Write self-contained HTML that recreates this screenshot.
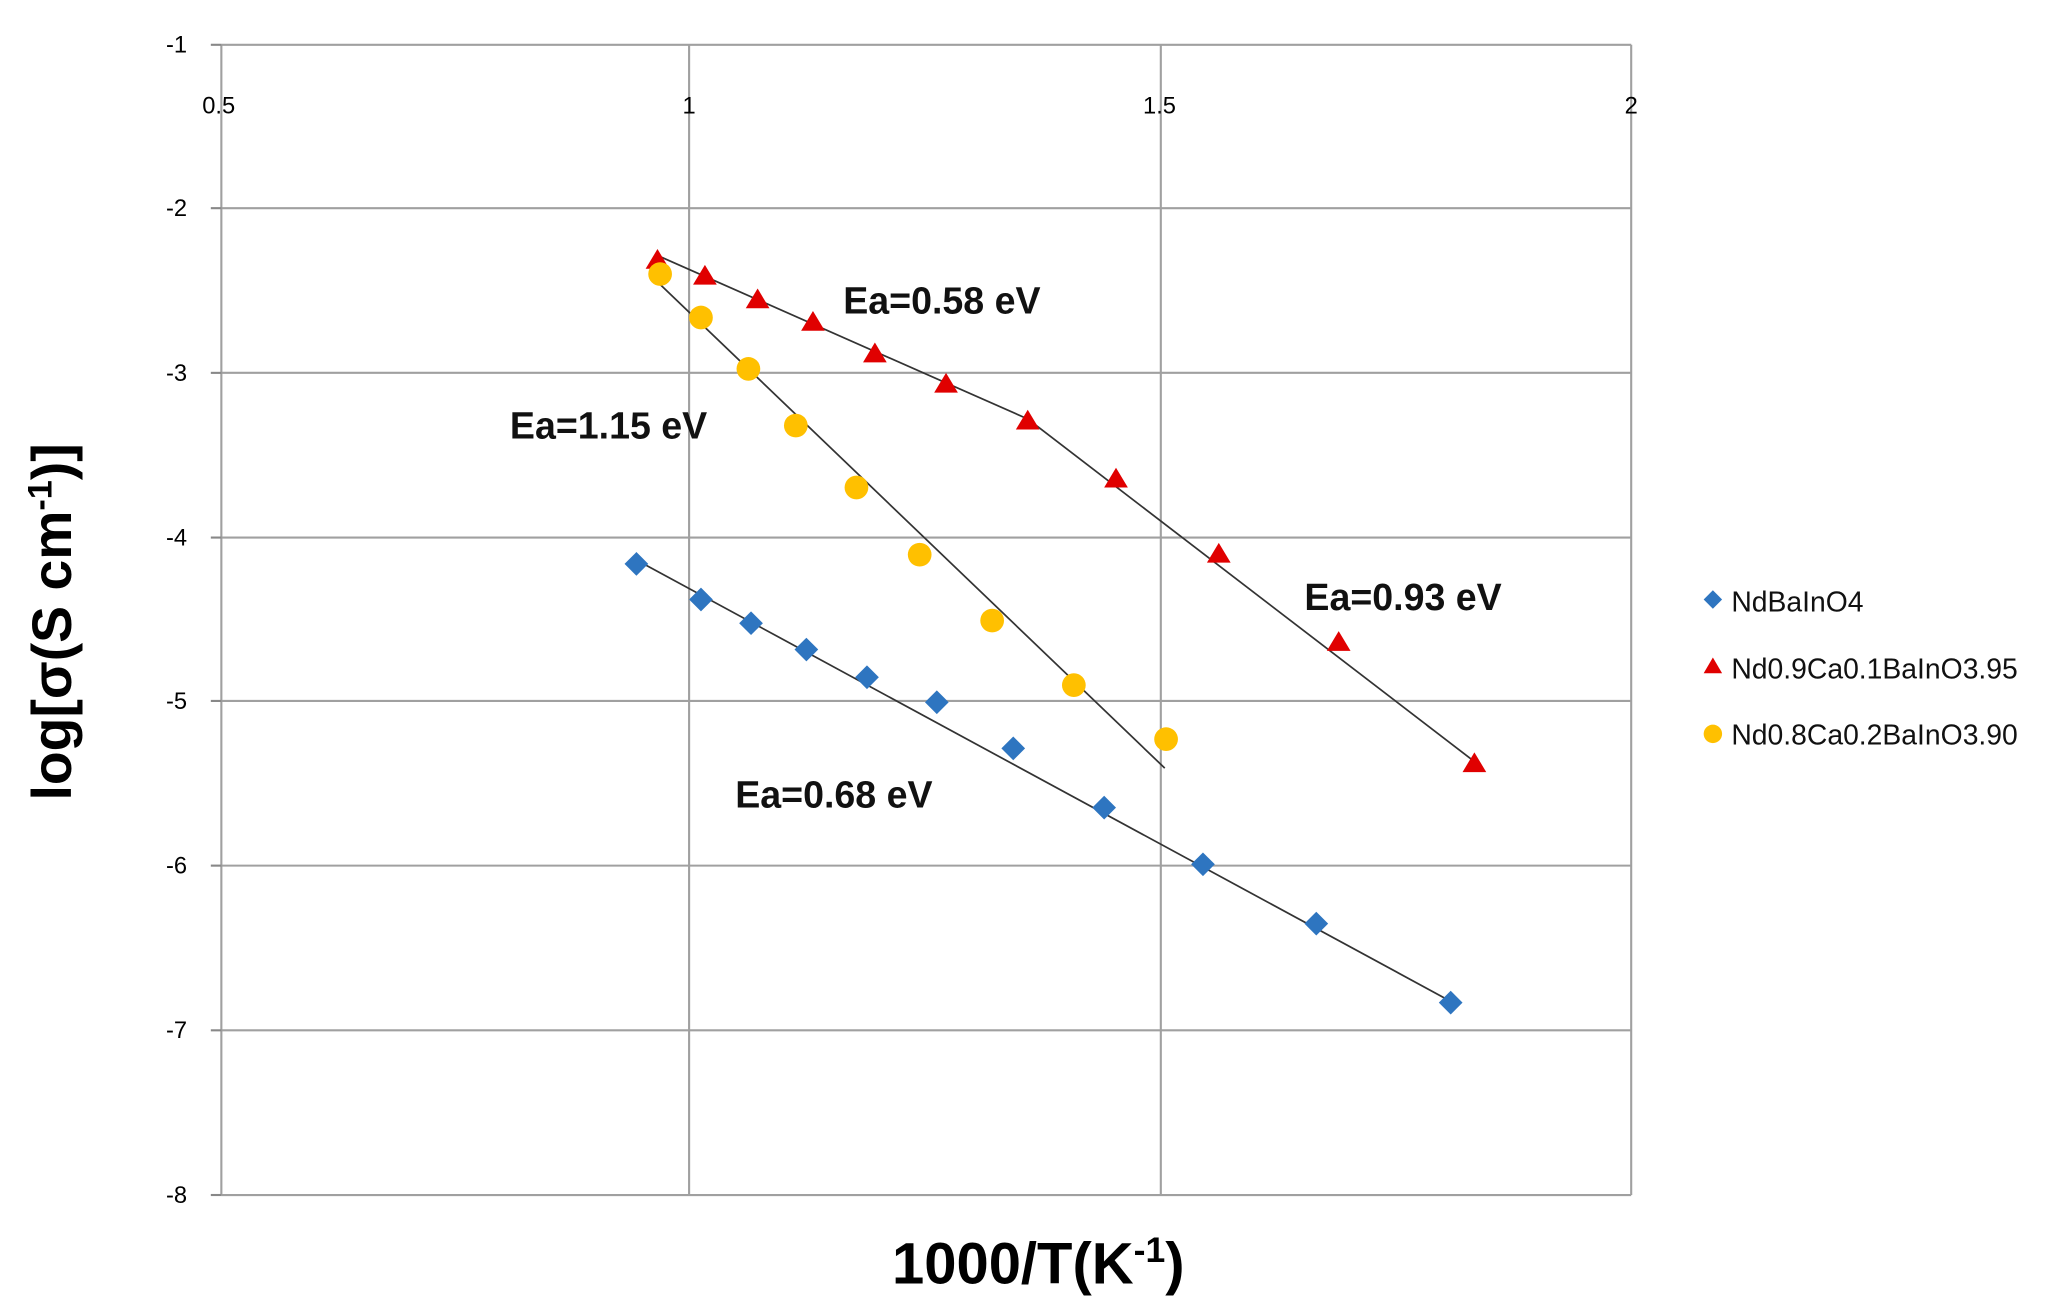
<!DOCTYPE html>
<html><head><meta charset="utf-8"><style>
html,body{margin:0;padding:0;background:#fff;}
svg{display:block;}
text{font-family:"Liberation Sans",sans-serif;}
</style></head><body>
<svg width="2066" height="1302" viewBox="0 0 1568 988.2" preserveAspectRatio="none" xmlns="http://www.w3.org/2000/svg">
<rect width="1568" height="988.2" fill="#fff"/>
<g stroke="#a0a0a0" stroke-width="1.6" fill="none">
<line x1="168" y1="34" x2="1238" y2="34"/>
<line x1="168" y1="158" x2="1238" y2="158"/>
<line x1="168" y1="283" x2="1238" y2="283"/>
<line x1="168" y1="408" x2="1238" y2="408"/>
<line x1="168" y1="532" x2="1238" y2="532"/>
<line x1="168" y1="657" x2="1238" y2="657"/>
<line x1="168" y1="782" x2="1238" y2="782"/>
<line x1="168" y1="907" x2="1238" y2="907"/>
<line x1="168" y1="34" x2="168" y2="907"/>
<line x1="523" y1="34" x2="523" y2="907"/>
<line x1="881" y1="34" x2="881" y2="907"/>
<line x1="1238" y1="34" x2="1238" y2="907"/>
</g>
<g stroke="#888" stroke-width="1.6">
<line x1="160" y1="34" x2="168" y2="34"/><line x1="160" y1="158" x2="168" y2="158"/><line x1="160" y1="283" x2="168" y2="283"/><line x1="160" y1="408" x2="168" y2="408"/><line x1="160" y1="532" x2="168" y2="532"/><line x1="160" y1="657" x2="168" y2="657"/><line x1="160" y1="782" x2="168" y2="782"/><line x1="160" y1="907" x2="168" y2="907"/>
</g>
<g font-size="18" fill="#000" text-anchor="end">
<text x="142" y="40">-1</text><text x="142" y="164">-2</text><text x="142" y="289">-3</text><text x="142" y="414">-4</text><text x="142" y="538">-5</text><text x="142" y="663">-6</text><text x="142" y="788">-7</text><text x="142" y="913">-8</text>
</g>
<g font-size="18" fill="#000" text-anchor="middle">
<text x="166" y="86">0.5</text><text x="523" y="86">1</text><text x="880" y="86">1.5</text><text x="1238" y="86">2</text>
</g>
<g stroke="#333" stroke-width="1.3">
<line x1="483" y1="425" x2="1101" y2="760"/>
<line x1="497" y1="193" x2="780" y2="318"/>
<line x1="780" y1="318" x2="1119" y2="578"/>
<line x1="497" y1="212" x2="884" y2="583"/>
</g>
<g fill="#2e75c0">
<path d="M483 419l9 9-9 9-9-9z"/><path d="M532 446l9 9-9 9-9-9z"/><path d="M570 464l9 9-9 9-9-9z"/><path d="M612 484l9 9-9 9-9-9z"/><path d="M658 505l9 9-9 9-9-9z"/><path d="M711 524l9 9-9 9-9-9z"/><path d="M769 559l9 9-9 9-9-9z"/><path d="M838 604l9 9-9 9-9-9z"/><path d="M913 647l9 9-9 9-9-9z"/><path d="M999 692l9 9-9 9-9-9z"/><path d="M1101 752l9 9-9 9-9-9z"/>
</g>
<g fill="#e00000">
<path d="M499 189l9 15h-18z"/><path d="M535 201l9 15h-18z"/><path d="M575 219l9 15h-18z"/><path d="M617 236l9 15h-18z"/><path d="M664 260l9 15h-18z"/><path d="M718 283l9 15h-18z"/><path d="M780 311l9 15h-18z"/><path d="M847 355l9 15h-18z"/><path d="M925 412l9 15h-18z"/><path d="M1016 479l9 15h-18z"/><path d="M1119 571l9 15h-18z"/>
</g>
<g fill="#ffc000">
<circle cx="501" cy="208" r="9"/><circle cx="532" cy="241" r="9"/><circle cx="568" cy="280" r="9"/><circle cx="604" cy="323" r="9"/><circle cx="650" cy="370" r="9"/><circle cx="698" cy="421" r="9"/><circle cx="753" cy="471" r="9"/><circle cx="815" cy="520" r="9"/><circle cx="885" cy="561" r="9"/>
</g>
<g font-size="28.5" font-weight="bold" fill="#111">
<text x="640" y="238">Ea=0.58 eV</text>
<text x="387" y="333">Ea=1.15 eV</text>
<text x="990" y="463">Ea=0.93 eV</text>
<text x="558" y="613">Ea=0.68 eV</text>
</g>
<path d="M1300 448l7 7-7 7-7-7z" fill="#2e75c0"/>
<path d="M1300 499l7 12h-14z" fill="#e00000"/>
<circle cx="1300" cy="557" r="7" fill="#ffc000"/>
<g font-size="21.5" fill="#111">
<text x="1314" y="464">NdBaInO4</text>
<text x="1314" y="515">Nd0.9Ca0.1BaInO3.95</text>
<text x="1314" y="565">Nd0.8Ca0.2BaInO3.90</text>
</g>
<text x="0" y="0" font-size="42" font-weight="bold" fill="#000" text-anchor="middle" transform="translate(54 472) rotate(-90)">log[σ(S cm<tspan font-size="26" dy="-15">-1</tspan><tspan dy="15">)]</tspan></text>
<text x="788" y="974" font-size="44" font-weight="bold" fill="#000" text-anchor="middle">1000/T(K<tspan font-size="27" dy="-16">-1</tspan><tspan dy="16">)</tspan></text>
</svg>
</body></html>
